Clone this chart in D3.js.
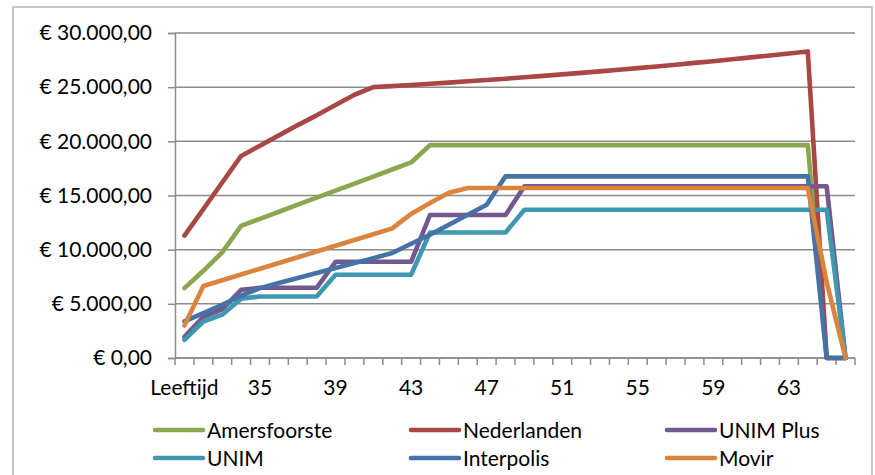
<!DOCTYPE html>
<html>
<head>
<meta charset="utf-8">
<script src="https://cdn.jsdelivr.net/npm/d3@7"></script>
<style>
  html, body { margin: 0; padding: 0; background: #fff; }
  svg { display: block; font-family: Lato, "Open Sans", sans-serif; }
</style>
</head>
<body>
<svg id="chart" width="875" height="475"></svg>
<script>
// ---- data ----
const categories = ["Leeftijd"].concat(d3.range(32, 67).map(String));
const tickLabels = ["Leeftijd", "35", "39", "43", "47", "51", "55", "59", "63"];
const yTicks = [0, 5000, 10000, 15000, 20000, 25000, 30000];
const seriesNames = ["Amersfoorste", "Nederlanden", "UNIM Plus", "UNIM", "Interpolis", "Movir"];
const seriesColors = ["#8AA64E", "#AA4643", "#71588F", "#3D98B0", "#4572A7", "#DB843D"];

const amersfoorste = [6450, 8050, 9750, 12200, 12850, 13500, 14150, 14800, 15450, 16100, 16750, 17400, 18050,
  19650, 19650, 19650, 19650, 19650, 19650, 19650, 19650, 19650, 19650, 19650, 19650, 19650, 19650, 19650, 19650,
  19650, 19650, 19650, 19650, 19650, 0, 0];
const nederlanden = [11300, 13750, 16200, 18650, 19600, 20550, 21500, 22400, 23350, 24300, 25000, 25100, 25200,
  25310, 25420, 25540, 25660, 25780, 25910, 26040, 26180, 26320, 26460, 26610, 26760, 26910, 27070, 27240, 27400,
  27580, 27750, 27930, 28110, 28300, 0, 0];
const unimPlus = [1950, 3800, 4500, 6300, 6480, 6480, 6480, 6480, 8880, 8880, 8880, 8880, 8880,
  13200, 13200, 13200, 13200, 13200, 15850, 15850, 15850, 15850, 15850, 15850, 15850, 15850, 15850, 15850, 15850,
  15850, 15850, 15850, 15850, 15850, 15850, 0];
const unim = [1680, 3370, 4000, 5480, 5680, 5680, 5680, 5680, 7690, 7690, 7690, 7690, 7690,
  11590, 11590, 11590, 11590, 11590, 13690, 13690, 13690, 13690, 13690, 13690, 13690, 13690, 13690, 13690, 13690,
  13690, 13690, 13690, 13690, 13690, 13690, 0];
const interpolis = [3380, 4150, 4900, 5750, 6450, 6920, 7380, 7840, 8300, 8760, 9220, 9690, 10550,
  11380, 12300, 13220, 14140, 16770, 16770, 16770, 16770, 16770, 16770, 16770, 16770, 16770, 16770, 16770, 16770,
  16770, 16770, 16770, 16770, 16770, 0, 0];
const movir = [3000, 6650, 7180, 7710, 8240, 8770, 9300, 9830, 10360, 10890, 11420, 11970, 13300,
  14300, 15250, 15690, 15690, 15690, 15690, 15690, 15690, 15690, 15690, 15690, 15690, 15690, 15690, 15690, 15690,
  15690, 15690, 15690, 15690, 15690, 7000, 0];

const seriesValues = [amersfoorste, nederlanden, unimPlus, unim, interpolis, movir];

// ---- layout ----
const svg = d3.select("#chart");
const plot = { left: 175, right: 855, top: 33, bottom: 358 };

// outer frame
svg.append("rect")
  .attr("x", 13).attr("y", 7)
  .attr("width", 859).attr("height", 470)
  .attr("fill", "none").attr("stroke", "#a8a8a8").attr("stroke-width", 1.3);

const x = d3.scaleBand().domain(categories).range([plot.left, plot.right]).paddingInner(0).paddingOuter(0);
const y = d3.scaleLinear().domain([0, 30000]).range([plot.bottom, plot.top]);

const locale = d3.formatLocale({ decimal: ",", thousands: ".", grouping: [3], currency: ["€ ", ""] });
const fmt = locale.format("$,.2f");

// gridlines
svg.append("g").selectAll("line").data(yTicks).join("line")
  .attr("x1", plot.left).attr("x2", plot.right)
  .attr("y1", d => y(d)).attr("y2", d => y(d))
  .attr("stroke", "#8c8c8c").attr("stroke-width", 1.5);

// y axis
const yAxis = svg.append("g").attr("transform", `translate(${plot.left},0)`)
  .call(d3.axisLeft(y).tickValues(yTicks).tickSize(7).tickPadding(16).tickFormat(fmt));
yAxis.select(".domain").attr("stroke", "#8c8c8c").attr("stroke-width", 1.5);
yAxis.selectAll(".tick line").attr("stroke", "#8c8c8c").attr("stroke-width", 1.5);
yAxis.selectAll(".tick text").attr("font-size", 21).attr("fill", "#000")
  .attr("font-family", "Lato, 'Open Sans', sans-serif");

// x axis: boundary ticks
const xAxis = svg.append("g").attr("transform", `translate(0,${plot.bottom})`);
xAxis.append("line").attr("x1", plot.left).attr("x2", plot.right)
  .attr("stroke", "#8c8c8c").attr("stroke-width", 1.5);
const bounds = d3.range(categories.length + 1).map(i => plot.left + i * x.step());
xAxis.selectAll("line.tk").data(bounds).join("line").attr("class", "tk")
  .attr("x1", d => d).attr("x2", d => d).attr("y1", 0).attr("y2", 7)
  .attr("stroke", "#8c8c8c").attr("stroke-width", 1.5);
xAxis.selectAll("text").data(tickLabels).join("text")
  .attr("x", d => x(d) + x.bandwidth() / 2)
  .attr("y", 37)
  .attr("text-anchor", "middle")
  .attr("font-size", 21).attr("fill", "#000")
  .text(d => d);

// lines
const line = d3.line()
  .x((d, i) => x(categories[i]) + x.bandwidth() / 2)
  .y(d => y(d));

svg.append("g").selectAll("path").data(seriesValues).join("path")
  .attr("d", d => line(d))
  .attr("fill", "none")
  .attr("stroke", (d, i) => seriesColors[i])
  .attr("stroke-width", 4.6)
  .attr("stroke-linejoin", "round")
  .attr("stroke-linecap", "round");

// legend
const legendCols = [155, 411, 667];
const legendRows = [430, 458];
const lg = svg.append("g");
seriesNames.forEach((name, i) => {
  const cx = legendCols[i % 3], cy = legendRows[Math.floor(i / 3)];
  lg.append("line").attr("x1", cx).attr("x2", cx + 48).attr("y1", cy).attr("y2", cy)
    .attr("stroke", seriesColors[i]).attr("stroke-width", 4.6).attr("stroke-linecap", "round");
  lg.append("text").attr("x", cx + 52).attr("y", cy + 7.5)
    .attr("font-size", 21).attr("fill", "#000").text(name);
});
</script>
</body>
</html>
